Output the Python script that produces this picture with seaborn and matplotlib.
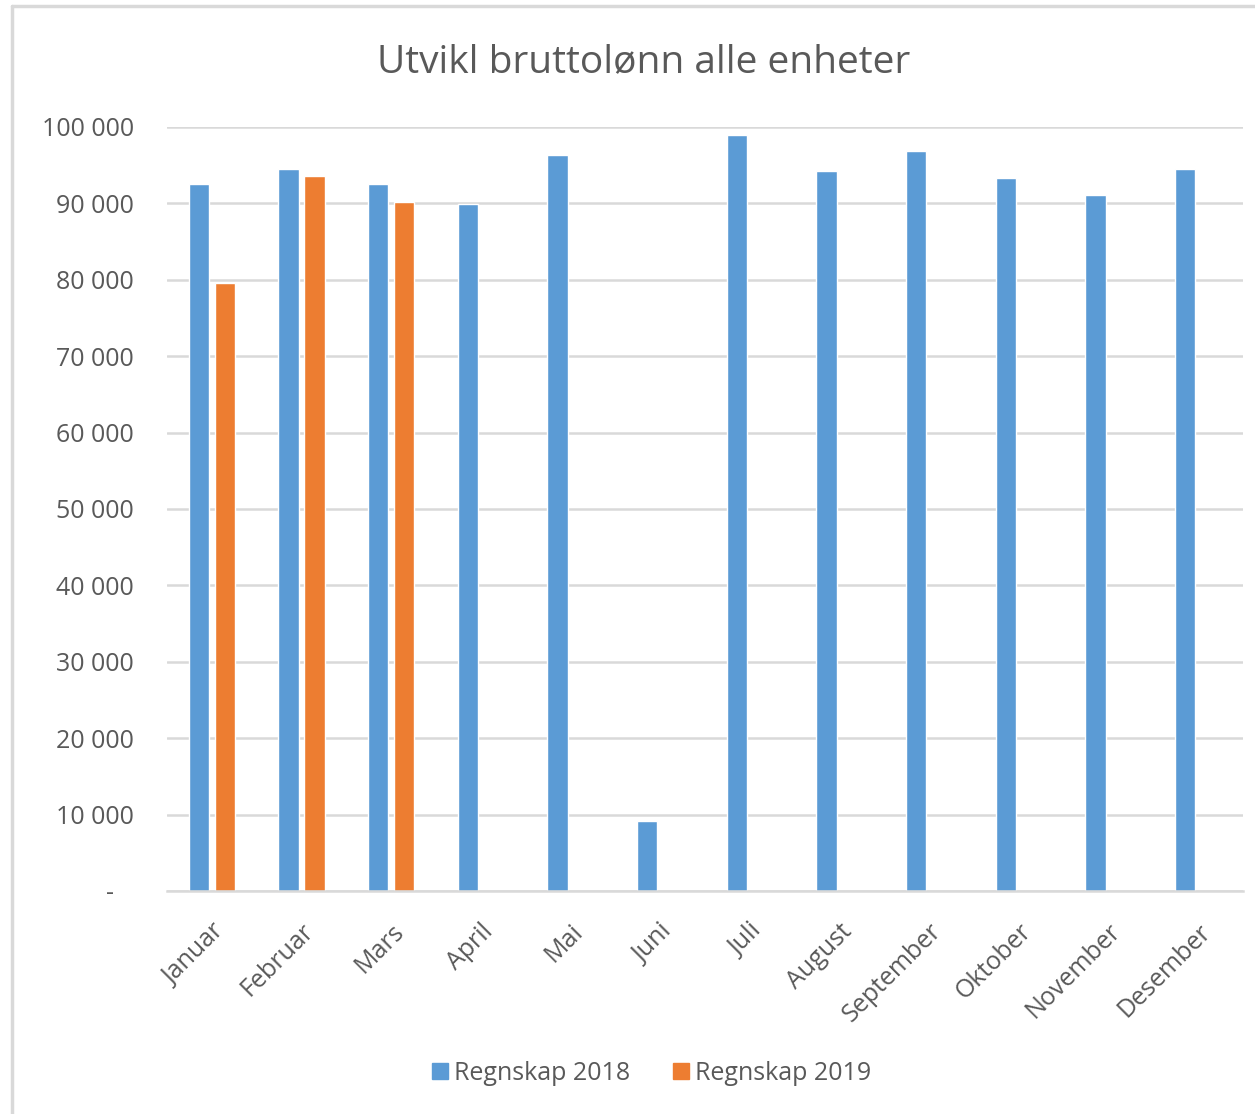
import numpy as np
import pandas as pd
import matplotlib.pyplot as plt
import seaborn as sns
from matplotlib.ticker import FuncFormatter
from matplotlib.lines import Line2D

# data
months = ['Januar', 'Februar', 'Mars', 'April', 'Mai', 'Juni', 'Juli',
          'August', 'September', 'Oktober', 'November', 'Desember']
regnskap_2018 = [92500, 94500, 92500, 89900, 96300, 9200, 98900,
                 94200, 96800, 93300, 91100, 94500]
regnskap_2019 = [79600, 93600, 90200]
series_names = ['Regnskap 2018', 'Regnskap 2019']

rows = [(m, series_names[0], v) for m, v in zip(months, regnskap_2018)]
rows += [(m, series_names[1], v) for m, v in zip(months, regnskap_2019)]
df = pd.DataFrame(rows, columns=['month', 'serie', 'value'])

sns.set_style('white')
plt.rcParams['font.family'] = ['Open Sans', 'DejaVu Sans']
text_col = '#595959'
grid_col = '#D9D9D9'
colors = ['#5B9BD5', '#ED7D31']

fig = plt.figure(figsize=(12.55, 11.14), dpi=100)
ax = fig.add_axes([167 / 1255, 1 - 891 / 1114, (1243 - 167) / 1255, (891 - 127) / 1114])

sns.barplot(data=df, x='month', y='value', hue='serie', order=months,
            hue_order=series_names, palette=colors, width=0.58, gap=0.23,
            saturation=1, errorbar=None, legend=False, ax=ax)

ax.set_ylim(0, 100000)
ax.set_yticks(np.arange(0, 100001, 10000))
# accounting style: zero shown as a dash, set in from the right
ax.yaxis.set_major_formatter(FuncFormatter(
    lambda v, p: '-   ' if v == 0 else f'{int(v):,}'.replace(',', ' ')))
ax.grid(axis='y', color=grid_col, linewidth=1.8)
ax.set_axisbelow(True)
for s in ['top', 'right', 'left']:
    ax.spines[s].set_visible(False)
ax.spines['bottom'].set_color(grid_col)
ax.spines['bottom'].set_linewidth(1.8)
ax.tick_params(axis='both', length=0, colors=text_col, labelsize=18)
ax.tick_params(axis='y', pad=24)
ax.set_xlabel('')
ax.set_ylabel('')
plt.setp(ax.get_xticklabels(), rotation=45, ha='right', rotation_mode='anchor')
ax.tick_params(axis='x', pad=20)

fig.text(644 / 1255, 1 - 62 / 1114, 'Utvikl bruttolønn alle enheter',
         ha='center', va='center', fontsize=28, color=text_col)

handles = [Line2D([], [], marker='s', linestyle='', markersize=11,
                  markerfacecolor=c, markeredgecolor=c) for c in colors]
fig.legend(handles, series_names, loc='center', bbox_to_anchor=(650 / 1255, 1 - 1073 / 1114),
           ncol=2, frameon=False, fontsize=18, labelcolor=text_col,
           handletextpad=0.1, columnspacing=1.6, handlelength=0.9)

# light frame around the chart area as in the screenshot
fig.add_artist(Line2D([12 / 1255, 12 / 1255], [0, 1 - 6 / 1114], transform=fig.transFigure,
                      color=grid_col, linewidth=2.5))
fig.add_artist(Line2D([12 / 1255, 1], [1 - 6 / 1114, 1 - 6 / 1114], transform=fig.transFigure,
                      color=grid_col, linewidth=2.5))

fig.savefig('out.png', dpi=100)
